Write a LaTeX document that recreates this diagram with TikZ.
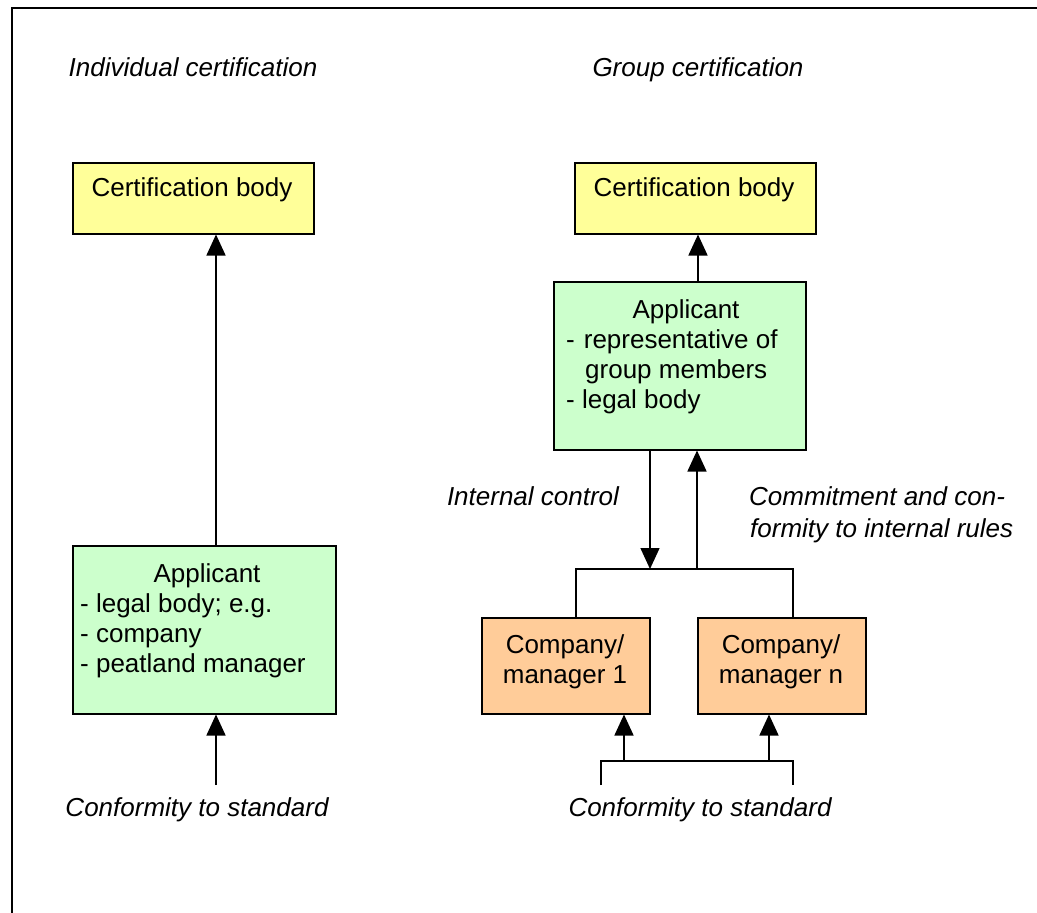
\documentclass[tikz,border=0pt]{standalone}
\usepackage{fontspec}
\setmainfont{Liberation Sans}
\usetikzlibrary{arrows.meta}
\definecolor{certfill}{HTML}{FFFF99}
\definecolor{appfill}{HTML}{CCFFCC}
\definecolor{compfill}{HTML}{FFCC99}
\begin{document}
\begin{tikzpicture}[x=1pt,y=-1pt,
  box/.style={draw,line width=1.5pt,anchor=north west,inner sep=0pt},
  certbox/.style={box,fill=certfill,minimum width=241pt,minimum height=71pt},
  appbox/.style={box,fill=appfill},
  compbox/.style={box,fill=compfill,minimum width=168pt,minimum height=96pt},
  txt/.style={font=\fontsize{26}{30}\selectfont,inner sep=0pt},
  lbl/.style={font=\fontsize{26}{30}\selectfont\itshape,inner sep=0pt},
  arr/.style={line width=1.5pt,-{Triangle[length=21pt,width=19pt]}},
  wire/.style={line width=1.5pt}]
\useasboundingbox (0,0) rectangle (1037,913);
% frame
\draw[line width=2pt] (1037,8) -- (12,8) -- (12,913);

% ---- individual certification ----
\node[lbl,anchor=base] (hL) at (193,76) {Individual certification};
\node[certbox] (cbL) at (72,162) {};
\node[txt,anchor=base] (cbLt) at (192,196) {Certification body};
\node[appbox,minimum width=263pt,minimum height=168pt] (apL) at (72,545) {};
\node[txt,anchor=base] (apLt) at (207,582) {Applicant};
\node[txt,anchor=base west] (apL1) at (80,612) {- legal body; e.g.};
\node[txt,anchor=base west] (apL2) at (80,642) {- company};
\node[txt,anchor=base west] (apL3) at (80,672) {- peatland manager};
\node[lbl,anchor=base] (cfL) at (197,816) {Conformity to standard};
\coordinate (xL) at (216,0);
\coordinate (srcL) at (216,785);
\draw[arr] (xL |- apL.north) -- (xL |- cbL.south);
\draw[arr] (srcL) -- (srcL |- apL.south);

% ---- group certification ----
\node[lbl,anchor=base] (hR) at (698,76) {Group certification};
\node[certbox] (cbR) at (574,162) {};
\node[txt,anchor=base] (cbRt) at (694,196) {Certification body};
\node[appbox,minimum width=252pt,minimum height=168pt] (apR) at (553,281) {};
\node[txt,anchor=base] (apRt) at (686,318) {Applicant};
\node[txt,anchor=base west] (apR1) at (566,348) {-\hspace{9pt}representative of};
\node[txt,anchor=base west] (apR2) at (585,378) {group members};
\node[txt,anchor=base west] (apR3) at (566,408) {- legal body};
\coordinate (xR) at (698,0);
\draw[arr] (xR |- apR.north) -- (xR |- cbR.south);

\node[compbox] (c1) at (481,617) {};
\node[txt,anchor=base] (c1a) at (565,653) {Company/};
\node[txt,anchor=base] (c1b) at (565,683) {manager 1};
\node[compbox] (cn) at (697,617) {};
\node[txt,anchor=base] (cna) at (781,653) {Company/};
\node[txt,anchor=base] (cnb) at (781,683) {manager n};

% internal bus between applicant and members
\coordinate (busL) at (576,569);
\coordinate (busR) at (793,569);
\coordinate (xDown) at (650,0);
\coordinate (xUp) at (697,0);
\draw[wire] (busL |- c1.north) -- (busL) -- (busR) -- (busR |- cn.north);
\draw[arr] (xDown |- apR.south) -- (xDown |- busL);
\draw[arr] (xUp |- busL) -- (xUp |- apR.south);
\node[lbl,anchor=base] (ic) at (533,505) {Internal control};
\node[lbl,anchor=base west] (cm1) at (749,505) {Commitment and con-};
\node[lbl,anchor=base west] (cm2) at (750,537) {formity to internal rules};

% conformity feed into members
\coordinate (sbL) at (601,785);
\coordinate (sbR) at (793,785);
\coordinate (sbY) at (0,761);
\coordinate (x1) at (624,0);
\coordinate (x2) at (769,0);
\draw[wire] (sbL) -- (sbL |- sbY) -- (sbR |- sbY) -- (sbR);
\draw[arr] (x1 |- sbY) -- (x1 |- c1.south);
\draw[arr] (x2 |- sbY) -- (x2 |- cn.south);
\node[lbl,anchor=base] (cfR) at (700,816) {Conformity to standard};
\end{tikzpicture}
\end{document}
